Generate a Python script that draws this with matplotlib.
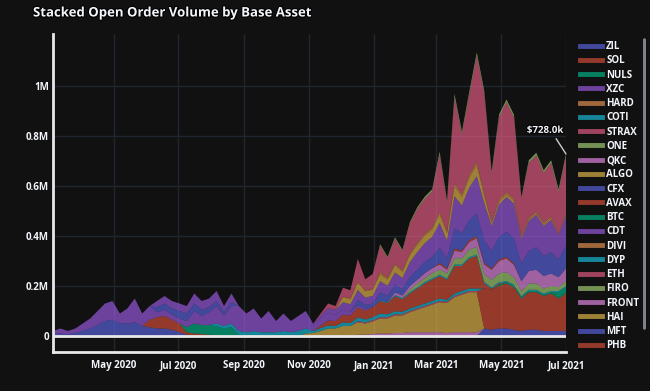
import matplotlib
matplotlib.use("Agg")
import matplotlib.pyplot as plt
import matplotlib.dates as mdates
import matplotlib.patheffects as pe
from matplotlib.lines import Line2D
from matplotlib.patches import FancyBboxPatch
from matplotlib.ticker import FuncFormatter, FixedLocator
import numpy as np
import pandas as pd

# weekly snapshots, values in $M
dates = pd.date_range("2020-03-05", periods=70, freq="7D")

MFT = [.008, .01, .007, .012, .02, .03, .045, .06, .065, .05,
       .05, .055, .04, .035, .03, .03, .025, .015, .005, 0,
       0, 0, 0, 0, 0, 0, 0, 0, 0, 0,
       0, 0, 0, 0, 0, 0, 0, 0, 0, 0,
       0, 0, 0, 0, 0, 0, 0, 0, 0, 0,
       0, 0, 0, 0, 0, 0, 0, 0, .03, .025,
       .03, .03, .025, .02, .025, .025, .02, .02, .02, .02]
FRONT = [0] * 40 + [
       0, .005, .005, .008, .01, .01, .012, .012, .015, .015,
       .015, .015, .015, .012, .015, .015, .015, .015, 0, 0,
       0, 0, 0, 0, 0, 0, 0, 0, 0, 0]
HAI = [0] * 34 + [
       .01, .012, .02, .03, .03, .04,
       .04, .05, .045, .05, .06, .06, .07, .07, .08, .09,
       .1, .11, .12, .12, .14, .15, .16, .16, 0, 0,
       0, 0, 0, 0, 0, 0, 0, 0, 0, 0]
PHB = [0] * 13 + [
       .03, .045, .05, .04, .035, .01, .01,
       .008, .005, .003, 0, 0, 0, 0, 0, 0, 0] + [0] * 28 + [
       .16, .16,
       .17, .18, .17, .13, .15, .15, .14, .15, .13, .15]
NULS = [0] * 60 + [.005, .005, .005, .005, .005, .005, .005, .005, .005, .005]
BTC = [0] * 18 + [
       .02, .04,
       .035, .04, .035, .03, .035, .005] + [0] * 42 + [.02, .02]
ETH = [0] * 41 + [
       .004, .004, .005, .005, .005, .005, .005, .005, .005,
       .005, .005, .005, .005, .005, .005, .005, .005] + [0] * 12
DYP = [0] * 22 + [
       .012, .01, .015, .015, .015, .02, .015, .015,
       .015, .02, .015, .02, .02, .008, .012, .012, .01, .015,
       .012, .015, .012, .012, .015, .012, .012, .01, .01, .01,
       .01, .01, .01, .008, .01, .01, .01, .01] + [0] * 12
AVAX = [0] * 36 + [
       .01, .02, .02, .03,
       .03, .04, .035, .04, .05, .045, .06, .05, .06, .07,
       .08, .085, .09, .08, .11, .1, .12, .13, .02, .005,
       .005, 0, 0, 0, 0, 0, 0, 0, 0, 0]
COTI = [0] * 44 + [
       .004, .004, .005, .005, .005, .005,
       .006, .006, .006, .005, .006, .006, .006, .006, .006, .005,
       .005, .005, .005, .004, .005, .005, .005, .005, .005, .005]
FIRO = [0] * 48 + [
       .01, .015,
       .015, .02, .02, .02, .025, .025, .03, .03, .03, .03,
       .035, .035, .03, .02, .025, .025, .02, .02, .015, .02]
QKC = [0] * 46 + [
       .01, .01, .015, .015,
       .02, .02, .02, .015, .03, .025, .03, .035, .04, .04,
       .05, .055, .05, .04, .05, .055, .05, .05, .04, .05]
XZC = [.012, .02, .013, .018, .03, .04, .055, .07, .075, .04,
       .06, .095, .05, .055, .02, .025, .02, .02, .025, .05,
       .037, .05, .07, .04, .07, .1, .075, .09, .055, .085,
       .045, .07, .045, .06, .07, .025, .03, .03, .025, .02,
       .015, .01, .008, 0, 0, 0, 0, 0, 0, 0] + [0] * 20
SOL = [0] * 52 + [
       .006, .006, .008, .006, .008, .008, .006, .005,
       .006, .006, .005] + [0] * 7
CFX = [0] * 41 + [
       .02, .015, .015, .03, .025, .03, .025, .035, .04,
       .045, .045, .06, .04, .08, .07, .08, .09, .09, .07,
       .09, .1, .1, .07, .08, .09, .08, .085, .07, .09]
ZIL = [0] * 14 + [
       .02, .025, .025, .03, .03, .03,
       .025, .02, .02, .015, .015] + [0] * 45
CDT = [0] * 14 + [
       .025, .03, .03, .03, .03, .04,
       .035, .035, .04, .025, .035, 0, 0, 0, 0, 0,
       0, 0, 0, 0, 0, .005, .01, .02, .02, .03,
       .03, .04, .03, .03, .045, .04, .05, .045, .06, .07,
       .075, .08, .1, .07, .13, .11, .13, .15, .15, .1,
       .13, .14, .14, .1, .12, .13, .12, .13, .1, .12]
ALGO = [0] * 39 + [
       .02,
       .02, .03, .025, .025, .03, .025, .03, .025, .03, .03,
       .03, .03, .035, .03, .04, .035, .04, .045, .03, .01,
       .01, .01, .01, .005, .005, .005, .005, .005, 0, 0]
DIVI = [0] * 39 + [.003, .003, .004, .003, .003, .003, .003] + [0] * 24
HARD = [0] * 44 + [
       .005, .005, .005, .005, .006, .008,
       .008, .008, .01, .008, .012, .01, .012, .012, .01, .008,
       .01, .01, .01, .006, .008, .008, .008, .008, .006, .008]
STRAX = [0] * 36 + [
       .008, .018, .015, .035,
       .033, .09, .045, .06, .105, .078, .1, .078, .118, .135,
       .14, .145, .23, .115, .345, .24, .32, .425, .40, .19,
       .33, .36, .325, .15, .22, .225, .2, .215, .165, .23]
ONE = [0] * 44 + [
       .005, .005, .006, .005, .006, .007,
       .008, .008, .01, .008, .012, .01, .012, .013, .01, .01,
       .01, .01, .01, .005, .01, .01, .01, .01, .01, .01]

y_ticks = [0, 0.2, 0.4, 0.6, 0.8, 1.0]

PLOTLY = ["#636efa", "#EF553B", "#00cc96", "#ab63fa", "#FFA15A",
          "#19d3f3", "#FF6692", "#B6E880", "#FF97FF", "#FECB52"]

legend_names = ["ZIL", "SOL", "NULS", "XZC", "HARD", "COTI", "STRAX", "ONE",
                "QKC", "ALGO", "CFX", "AVAX", "BTC", "CDT", "DIVI", "DYP",
                "ETH", "FIRO", "FRONT", "HAI", "MFT", "PHB"]
colors = {n: PLOTLY[i % 10] for i, n in enumerate(legend_names)}

# bottom -> top
stack = [("MFT", MFT), ("FRONT", FRONT), ("HAI", HAI), ("PHB", PHB),
         ("NULS", NULS), ("BTC", BTC), ("ETH", ETH), ("DYP", DYP),
         ("AVAX", AVAX), ("COTI", COTI), ("FIRO", FIRO), ("QKC", QKC),
         ("XZC", XZC), ("SOL", SOL), ("CFX", CFX), ("ZIL", ZIL),
         ("CDT", CDT), ("ALGO", ALGO), ("DIVI", DIVI), ("HARD", HARD),
         ("STRAX", STRAX), ("ONE", ONE)]

BG = "#111111"
FG = "#f2f5fa"
plt.rcParams["font.family"] = ["Open Sans", "DejaVu Sans"]

fig = plt.figure(figsize=(6.5, 3.91), dpi=100, facecolor=BG)
ax = fig.add_axes([53 / 650, 1 - 352 / 391, 513 / 650, 318 / 391])
ax.set_facecolor(BG)

ax.stackplot(dates, *[np.array(v) for _, v in stack],
             colors=[colors[n] for n, _ in stack], alpha=0.6, lw=0, zorder=2)

ax.set_xlim(dates[0], dates[-1])
ax.set_ylim(-0.064, 1.208)
ax.yaxis.set_major_locator(FixedLocator(y_ticks))
ax.yaxis.set_major_formatter(FuncFormatter(lambda v, p: "0" if abs(v) < 1e-9 else f"{v:g}M"))
ax.xaxis.set_major_locator(mdates.MonthLocator(bymonth=[1, 3, 5, 7, 9, 11]))
ax.xaxis.set_major_formatter(mdates.DateFormatter("%b %Y"))

ax.grid(True, color="#1f2630", lw=1, zorder=0)
ax.set_axisbelow(True)
ax.tick_params(length=0, colors=FG, labelsize=7)
ax.tick_params(axis="x", pad=6)
ax.tick_params(axis="y", pad=3)
for lab in ax.get_xticklabels() + ax.get_yticklabels():
    lab.set_fontweight("bold")

for s in ["top", "right"]:
    ax.spines[s].set_visible(False)
for s in ["left", "bottom"]:
    ax.spines[s].set_color("#e8e8e8")
    ax.spines[s].set_linewidth(2)
ax.axhline(0, color="#e8e8e8", lw=2, zorder=3)

fig.text(33 / 650, 1 - 13 / 391, "Stacked Open Order Volume by Base Asset",
         color=FG, fontsize=9.5, fontweight="bold", va="center", ha="left",
         path_effects=[pe.withStroke(linewidth=1.5, foreground="black")])

last_total = sum(v[-1] for _, v in stack)
ax.annotate(f"${last_total * 1000:.1f}k", xy=(dates[-1], last_total),
            xytext=(-15, 17), textcoords="offset points", ha="center", va="center",
            color=FG, fontsize=7, fontweight="bold",
            path_effects=[pe.withStroke(linewidth=1.5, foreground="black")],
            arrowprops=dict(arrowstyle="-", color="#cccccc", lw=1,
                            shrinkA=0, shrinkB=0, relpos=(0.75, 0.0)),
            zorder=5)

handles = [Line2D([], [], color=colors[n], alpha=0.6, lw=3.5) for n in legend_names]
leg = fig.legend(handles, legend_names, loc="upper left",
                 bbox_to_anchor=(580 / 650, 1 - 41 / 391), frameon=False,
                 fontsize=7, handlelength=2.3, handletextpad=0.4,
                 labelspacing=0.335, borderaxespad=0, borderpad=0)
for t in leg.get_texts():
    t.set_color(FG)
    t.set_fontweight("bold")

# legend scroll bar
fig.patches.append(FancyBboxPatch((643 / 650, 1 - 330 / 391), 3 / 650, 292 / 391,
                                  boxstyle="round,pad=0,rounding_size=0.004",
                                  transform=fig.transFigure, color="#8a8f99",
                                  alpha=0.9, lw=0))

fig.savefig("out.png", dpi=100, facecolor=BG)
